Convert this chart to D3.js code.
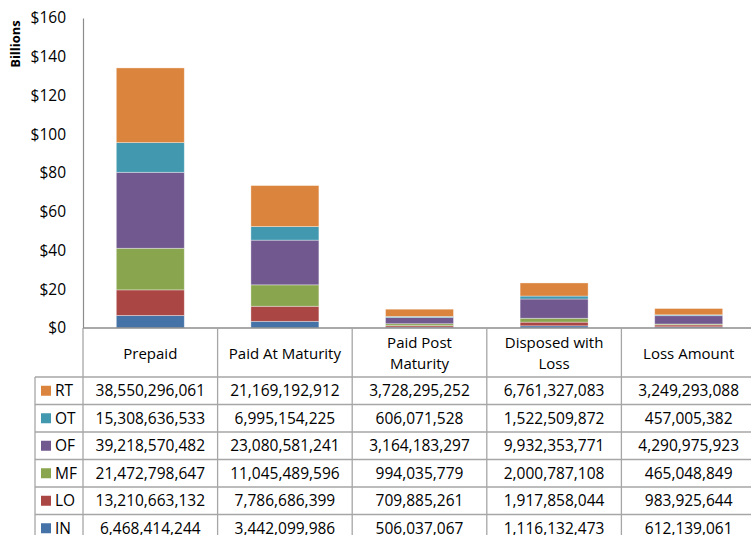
<!DOCTYPE html>
<html>
<head>
<meta charset="utf-8">
<script src="https://cdn.jsdelivr.net/npm/d3@7"></script>
<style>
  body { margin: 0; background: #fff; }
  svg { display: block; font-family: "Open Sans", "Noto Sans", sans-serif; }
</style>
</head>
<body>
<svg id="chart" width="751" height="535"></svg>
<script>
// categories and series, bottom of stack first
const categories = ['Prepaid', 'Paid At Maturity', 'Paid Post Maturity', 'Disposed with Loss', 'Loss Amount'];
const headerLines = [['Prepaid'], ['Paid At Maturity'], ['Paid Post', 'Maturity'], ['Disposed with', 'Loss'], ['Loss Amount']];
const seriesNames = ['IN', 'LO', 'MF', 'OF', 'OT', 'RT'];
const IN = [6468414244, 3442099986, 506037067, 1116132473, 612139061];
const LO = [13210663132, 7786686399, 709885261, 1917858044, 983925644];
const MF = [21472798647, 11045489596, 994035779, 2000787108, 465048849];
const OF = [39218570482, 23080581241, 3164183297, 9932353771, 4290975923];
const OT = [15308636533, 6995154225, 606071528, 1522509872, 457005382];
const RT = [38550296061, 21169192912, 3728295252, 6761327083, 3249293088];
const yTicks = [0, 20, 40, 60, 80, 100, 120, 140, 160];

const seriesValues = { IN, LO, MF, OF, OT, RT };
const colors = { IN: '#4572a7', LO: '#aa4643', MF: '#89a54e', OF: '#71588f', OT: '#4198af', RT: '#db843d' };

const svg = d3.select('#chart');
const W = 751, plotTop = 18, plotBottom = 328, axisX = 83, colW = 134.6;
const legendX = 35, headerH = 49, rowH = 27.5;
const gridColor = '#a6a6a6';

const x = d3.scaleBand().domain(categories).range([axisX, axisX + colW * categories.length]).padding(0);
const y = d3.scaleLinear().domain([0, 160]).range([plotBottom, plotTop]);

// stacked bars (values in billions)
const rows = categories.map((c, i) => {
  const r = { cat: c };
  seriesNames.forEach(s => { r[s] = seriesValues[s][i] / 1e9; });
  return r;
});
const stacked = d3.stack().keys(seriesNames)(rows);
const barW = x.bandwidth() * 0.505;

svg.append('g').selectAll('g')
  .data(stacked)
  .join('g')
  .attr('fill', d => colors[d.key])
  .selectAll('rect')
  .data(d => d)
  .join('rect')
  .attr('x', d => x(d.data.cat) + (x.bandwidth() - barW) / 2)
  .attr('y', d => y(d[1]))
  .attr('width', barW)
  .attr('height', d => y(d[0]) - y(d[1]))
  .attr('stroke', 'rgba(255,255,255,0.45)')
  .attr('stroke-width', 0.8);

// y axis
const yAxis = d3.axisLeft(y).tickValues(yTicks).tickSize(0).tickPadding(17)
  .tickFormat(d => '$' + d);
const gy = svg.append('g').attr('transform', `translate(${axisX},0)`).call(yAxis);
gy.select('.domain').attr('stroke', '#8c8c8c').attr('stroke-width', 1.2);
gy.selectAll('text').attr('font-size', 15.5).attr('fill', '#000')
  .attr('font-family', '"Open Sans", sans-serif');

svg.append('text')
  .attr('transform', 'translate(20,44) rotate(-90)')
  .attr('text-anchor', 'middle')
  .attr('font-size', 13).attr('font-weight', 'bold')
  .text('Billions');

// data table below the axis
const tableTop = plotBottom;
const bodyTop = tableTop + headerH;
const tableBottom = bodyTop + rowH * seriesNames.length;
const table = svg.append('g');
const fmt = d3.format(',');

// horizontal lines
table.append('line')
  .attr('x1', axisX).attr('x2', W).attr('y1', tableTop).attr('y2', tableTop)
  .attr('stroke', '#8c8c8c').attr('stroke-width', 1.5);
d3.range(seriesNames.length + 1).forEach(i => {
  const yy = bodyTop + i * rowH;
  table.append('line')
    .attr('x1', legendX).attr('x2', W).attr('y1', yy).attr('y2', yy)
    .attr('stroke', gridColor).attr('stroke-width', 1.3);
});
// vertical lines
categories.forEach((c, i) => {
  table.append('line')
    .attr('x1', x(c)).attr('x2', x(c))
    .attr('y1', tableTop).attr('y2', tableBottom)
    .attr('stroke', gridColor).attr('stroke-width', 1.3);
});
table.append('line')
  .attr('x1', legendX).attr('x2', legendX)
  .attr('y1', bodyTop).attr('y2', tableBottom)
  .attr('stroke', gridColor).attr('stroke-width', 1.3);

// header labels
categories.forEach((c, i) => {
  const lines = headerLines[i];
  const cy = tableTop + headerH / 2 + 1;
  const t = table.append('text')
    .attr('x', x(c) + x.bandwidth() / 2)
    .attr('text-anchor', 'middle')
    .attr('font-size', 15);
  lines.forEach((ln, j) => {
    t.append('tspan')
      .attr('x', x(c) + x.bandwidth() / 2)
      .attr('y', cy + (j - (lines.length - 1) / 2) * 21)
      .attr('dy', '0.35em')
      .text(ln);
  });
});

// body rows, top row is the top of the stack
const tableOrder = seriesNames.slice().reverse();
tableOrder.forEach((s, r) => {
  const cy = bodyTop + r * rowH + rowH / 2;
  table.append('rect')
    .attr('x', 41).attr('y', cy - 5).attr('width', 10).attr('height', 10)
    .attr('fill', colors[s]);
  table.append('text')
    .attr('x', 55).attr('y', cy).attr('dy', '0.36em')
    .attr('font-size', 15.5)
    .text(s);
  categories.forEach((c, i) => {
    table.append('text')
      .attr('x', x(c) + x.bandwidth() / 2).attr('y', cy).attr('dy', '0.36em')
      .attr('text-anchor', 'middle')
      .attr('font-size', 15.5)
      .text(fmt(seriesValues[s][i]));
  });
});
</script>
</body>
</html>
